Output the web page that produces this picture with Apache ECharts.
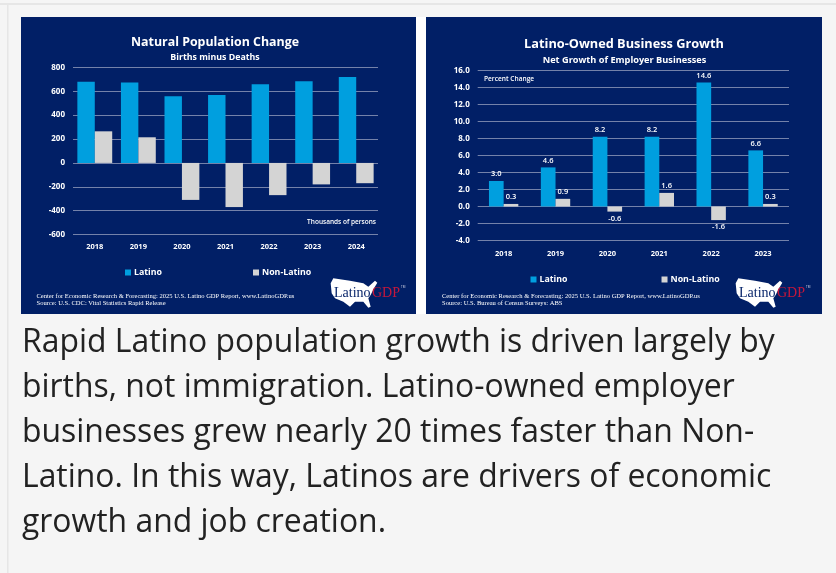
<!DOCTYPE html>
<html><head><meta charset="utf-8">
<style>html,body{margin:0;padding:0;background:#fff}#c{width:836px;height:573px}</style>
<script src="https://cdn.jsdelivr.net/npm/echarts@6/dist/echarts.min.js"></script>
</head><body><div id="c"></div>
<script>
const popYears = ['2018','2019','2020','2021','2022','2023','2024'];
const popLatino = [680,675,560,570,660,685,720];
const popNonLatino = [265,215,-310,-370,-270,-180,-170];
const bizYears = ['2018','2019','2020','2021','2022','2023'];
const bizLatino = [3.0,4.6,8.2,8.2,14.6,6.6];
const bizNonLatino = [0.3,0.9,-0.6,1.6,-1.6,0.3];
const paragraph = [
 'Rapid Latino population growth is driven largely by',
 'births, not immigration. Latino-owned employer',
 'businesses grew nearly 20 times faster than Non-',
 'Latino. In this way, Latinos are drivers of economic',
 'growth and job creation.'];

const NAVY='#011f66', BLUE='#009fdf', GREY='#d4d4d4', GRID='#7482aa';
const SANS='"Open Sans"', SERIF='"Liberation Serif"';
const txt=(x,y,text,o={})=>({type:'text',x,y,silent:true,style:Object.assign({text,fill:'#fff',font:`600 7px ${SANS}`,textAlign:'left',textVerticalAlign:'middle'},o)});
const rect=(x,y,w,h,fill)=>({type:'rect',silent:true,shape:{x,y,width:w,height:h},style:{fill}});
const usa=[[92,40],[100,25],[150,32],[190,40],[205,50],[225,32],[232,38],[222,55],[212,75],[205,85],[212,110],[205,113],[190,95],[165,95],[150,110],[130,95],[105,85],[95,70]].map(p=>[p[0]/3,p[1]/3]);
const logo=(x,y)=>({type:'group',x,y,silent:true,children:[
 {type:'polygon',shape:{points:usa},style:{fill:'#fff'}},
 txt(34,23,'Latino',{fill:NAVY,font:`14px ${SERIF}`}),
 txt(72,23,'GDP',{fill:'#c5173c',font:`14px ${SERIF}`}),
 txt(101,17,'TM',{fill:'#d8d8e8',font:`3px ${SANS}`})
]});
const axisX=(years,gi,margin)=>({type:'category',gridIndex:gi,data:years,
 axisTick:{show:false},position:'bottom',axisLine:{show:false,onZero:false},
 axisLabel:{color:'#fff',fontFamily:SANS,fontWeight:700,fontSize:7.5,margin}});
const axisY=(gi,min,max,interval,dec)=>({type:'value',gridIndex:gi,min,max,interval,
 axisLine:{show:false},axisTick:{show:false},
 axisLabel:{color:'#fff',fontFamily:SANS,fontWeight:700,fontSize:8,margin:8,formatter:v=>v.toFixed(dec)},
 splitLine:{lineStyle:{color:GRID,width:1}}});
const labelCfg={show:true,position:'outside',distance:3,color:'#fff',fontFamily:SANS,fontWeight:600,fontSize:7.5,formatter:p=>p.value.toFixed(1)};
const legendCfg=(left,top,gap)=>({left,top,itemGap:gap,itemWidth:6,itemHeight:6,icon:'rect',orient:'horizontal',
 data:['Latino','Non-Latino'],selectedMode:false,textStyle:{color:'#fff',fontFamily:SANS,fontWeight:700,fontSize:8.8,padding:[0,0,0,-2]}});

const chart=echarts.init(document.getElementById('c'),null,{renderer:'canvas'});
chart.setOption({
 animation:false,
 backgroundColor:'#fff',
 grid:[{left:73,top:67.5,width:305,height:167},{left:477.7,top:70.5,width:311.3,height:170}],
 xAxis:[axisX(popYears,0,8.5),axisX(bizYears,1,9)],
 yAxis:[axisY(0,-600,800,200,0),axisY(1,-4,16,2,1)],
 legend:[legendCfg(120,263,91),legendCfg(525.5,270,94)],
 series:[
  {name:'Latino',type:'bar',xAxisIndex:0,yAxisIndex:0,data:popLatino,itemStyle:{color:BLUE},barWidth:'40%',barGap:'0%',z:3},
  {name:'Non-Latino',type:'bar',xAxisIndex:0,yAxisIndex:0,data:popNonLatino,itemStyle:{color:GREY},barWidth:'40%',barGap:'0%',z:3},
  {name:'Latino',type:'bar',xAxisIndex:1,yAxisIndex:1,data:bizLatino,itemStyle:{color:BLUE},barWidth:'28.3%',barGap:'0%',label:labelCfg,z:3},
  {name:'Non-Latino',type:'bar',xAxisIndex:1,yAxisIndex:1,data:bizNonLatino,itemStyle:{color:GREY},barWidth:'28.3%',barGap:'0%',label:labelCfg,z:3}
 ],
 graphic:{elements:[
  Object.assign(rect(0,0,836,573,'#f5f5f5'),{z:-10}),
  Object.assign(rect(0,3,836,2,'#e6e6e6'),{z:-9}),
  Object.assign(rect(7,3,1.5,570,'#e6e6e6'),{z:-9}),
  Object.assign(rect(416,17,10,297,'#ffffff'),{z:-9}),
  Object.assign(rect(21,17,395,297,NAVY),{z:-8}),
  Object.assign(rect(426,17,396,297,NAVY),{z:-8}),
  Object.assign(txt(215,42,'Natural Population Change',{font:`700 12.4px ${SANS}`,textAlign:'center'}),{z:10}),
  Object.assign(txt(215,57.5,'Births minus Deaths',{font:`700 8.8px ${SANS}`,textAlign:'center'}),{z:10}),
  Object.assign(txt(624,44.5,'Latino-Owned Business Growth',{font:`700 12.75px ${SANS}`,textAlign:'center'}),{z:10}),
  Object.assign(txt(624.5,60,'Net Growth of Employer Businesses',{font:`700 9.2px ${SANS}`,textAlign:'center'}),{z:10}),
  Object.assign(txt(376,222.5,'Thousands of persons',{font:`600 6.5px ${SANS}`,textAlign:'right'}),{z:10}),
  Object.assign(txt(484,79,'Percent Change',{font:`600 6.6px ${SANS}`}),{z:10}),
  Object.assign(txt(36.5,296,'Center for Economic Research & Forecasting: 2025 U.S. Latino GDP Report, www.LatinoGDP.us',{font:`6.55px ${SERIF}`}),{z:10}),
  Object.assign(txt(36.5,303.5,'Source: U.S. CDC: Vital Statistics Rapid Release',{font:`6.55px ${SERIF}`}),{z:10}),
  Object.assign(txt(442,296,'Center for Economic Research & Forecasting: 2025 U.S. Latino GDP Report, www.LatinoGDP.us',{font:`6.55px ${SERIF}`}),{z:10}),
  Object.assign(txt(442,303.5,'Source: U.S. Bureau of Census Surveys: ABS',{font:`6.55px ${SERIF}`}),{z:10}),
  Object.assign(logo(300,270),{z:10}),
  Object.assign(logo(705,270),{z:10}),
  ...paragraph.map((t,i)=>Object.assign(txt(22,343+i*45,t,{font:`400 31.9px ${SANS}`,fill:'#222'}),{z:10}))
 ]}
});
</script></body></html>
